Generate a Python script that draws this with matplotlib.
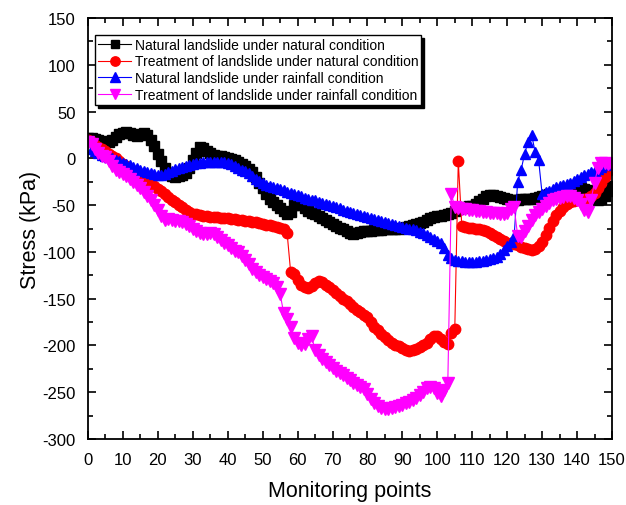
import numpy as np
import matplotlib
matplotlib.use("Agg")
import matplotlib.pyplot as plt
from matplotlib.ticker import MultipleLocator

plt.rcParams["font.family"] = ["Liberation Sans", "DejaVu Sans"]
plt.rcParams["axes.unicode_minus"] = False

points = np.arange(0, 151)

natural_natural = [
    22, 22, 21, 20, 19, 18, 17, 20, 23, 26,
    27, 28, 27, 25, 24, 26, 27, 25, 20, 13,
    5, -3, -10, -16, -19, -20, -19, -18, -16, -10,
    -2, 6, 12, 11, 8, 6, 4, 3, 2, 1,
    0, -1, -2, -4, -6, -8, -11, -15, -20, -26,
    -32, -38, -43, -47, -50, -53, -56, -59, -57, -50,
    -48, -50, -53, -56, -58, -60, -62, -64, -66, -68,
    -70, -72, -74, -76, -78, -80, -81, -80, -79, -78,
    -78, -78, -77, -77, -77, -76, -76, -76, -75, -75,
    -74, -73, -72, -71, -70, -69, -68, -66, -64, -63,
    -62, -62, -61, -60, -58, -56, -54, -53, -52, -51,
    -51, -49, -46, -43, -40, -39, -39, -40, -41, -42,
    -43, -44, -44, -44, -43, -43, -43, -43, -42, -41,
    -40, -39, -38, -38, -37, -36, -35, -34, -33, -33,
    -32, -32, -33, -34, -38, -42, -44, -43, -40, -35,
    -30,
]

treated_natural = [
    20, 17, 14, 12, 10, 8, 5, 2, 0, -3,
    -6, -8, -11, -14, -17, -20, -23, -25, -28, -30,
    -33, -35, -38, -41, -44, -47, -50, -52, -55, -57,
    -59, -60, -61, -62, -62, -63, -63, -63, -64, -64,
    -64, -65, -65, -66, -66, -67, -67, -68, -68, -69,
    -70, -71, -71, -72, -73, -74, -76, -80, -121, -124,
    -130, -135, -138, -139, -136, -133, -131, -132, -135, -138,
    -141, -144, -147, -150, -153, -156, -159, -162, -164, -167,
    -170, -175, -180, -184, -188, -191, -194, -197, -199, -201,
    -203, -205, -206, -205, -204, -202, -200, -197, -193, -190,
    -190, -193, -196, -198, -187, -182, -3, -72, -73, -74,
    -74, -75, -76, -77, -78, -80, -82, -84, -86, -88,
    -90, -91, -92, -93, -95, -96, -97, -98, -97, -94,
    -89, -82, -74, -67, -61, -56, -52, -49, -47, -46,
    -45, -44, -43, -42, -40, -37, -32, -26, -20, -13,
    -5,
]

natural_rainfall = [
    20, 10, 8, 6, 4, 2, 1, 0, -2, -3,
    -5, -6, -7, -9, -10, -12, -13, -15, -16, -17,
    -18, -18, -17, -15, -13, -11, -10, -9, -8, -7,
    -6, -5, -5, -4, -4, -4, -4, -4, -4, -4,
    -5, -6, -8, -10, -12, -14, -16, -19, -22, -24,
    -26, -28, -30, -31, -32, -33, -34, -36, -37, -38,
    -39, -40, -42, -43, -44, -45, -47, -48, -49, -50,
    -51, -52, -53, -55, -56, -57, -58, -59, -61, -62,
    -63, -64, -65, -66, -67, -68, -69, -70, -71, -72,
    -73, -74, -75, -76, -77, -79, -80, -82, -84, -86,
    -88, -91, -96, -103, -107, -109, -110, -110, -111, -111,
    -111, -111, -110, -110, -109, -108, -107, -105, -102, -98,
    -94, -89, -83, -25, -12, 5, 18, 25, 7, -2,
    -38, -36, -35, -33, -31, -30, -28, -27, -26, -24,
    -22, -20, -18, -17, -15, -13, -11, -9, -7, -6,
    -5,
]

treated_rainfall = [
    18, 15, 10, 6, 3, 1, -3, -8, -12, -15,
    -17, -19, -22, -25, -28, -32, -36, -40, -45, -50,
    -55, -62, -66, -65, -66, -67, -67, -68, -70, -72,
    -75, -78, -80, -81, -81, -80, -81, -84, -87, -90,
    -93, -96, -99, -100, -104, -109, -113, -118, -122, -125,
    -127, -129, -131, -133, -138, -145, -165, -172, -180, -192,
    -197, -200, -198, -193, -190, -205, -210, -214, -218, -221,
    -224, -227, -229, -232, -235, -237, -240, -242, -244, -247,
    -252, -257, -262, -265, -267, -268, -268, -267, -266, -265,
    -264, -262, -260, -258, -256, -253, -250, -246, -244, -246,
    -251, -254, -248, -240, -38, -52, -53, -54, -54, -55,
    -55, -56, -56, -57, -57, -58, -58, -58, -59, -60,
    -58, -54, -52, -83, -84, -78, -72, -66, -61, -57,
    -54, -51, -48, -45, -43, -42, -41, -40, -40, -42,
    -45, -49, -55, -57, -44, -26, -10, -5, -5, -6,
    -7,
]

labels = [
    "Natural landslide under natural condition",
    "Treatment of landslide under natural condition",
    "Natural landslide under rainfall condition",
    "Treatment of landslide under rainfall condition",
]

fig = plt.figure(figsize=(6.26, 5.06), dpi=100)
ax = fig.add_axes([0.1406, 0.1304, 0.837, 0.832])

ax.plot(points, natural_natural, color="black", marker="s", ms=6.5, lw=0.8,
        label=labels[0])
ax.plot(points, treated_natural, color="#ff0000", marker="o", ms=7.5, lw=0.8,
        label=labels[1])
ax.plot(points, natural_rainfall, color="#0000ff", marker="^", ms=7.5, lw=0.8,
        label=labels[2])
ax.plot(points, treated_rainfall, color="#ff00ff", marker="v", ms=8.5, lw=0.8,
        label=labels[3])

ax.set_xlim(0, 150)
ax.set_ylim(-300, 150)
ax.xaxis.set_major_locator(MultipleLocator(10))
ax.xaxis.set_minor_locator(MultipleLocator(5))
ax.yaxis.set_major_locator(MultipleLocator(50))
ax.yaxis.set_minor_locator(MultipleLocator(25))
ax.tick_params(which="both", direction="in", top=True, right=True,
               labeltop=False, labelright=False, width=1.2)
ax.tick_params(which="major", length=6, labelsize=12, pad=9)
ax.tick_params(which="minor", length=3.5)
for s in ax.spines.values():
    s.set_linewidth(1.3)

ax.set_xlabel("Monitoring points", fontsize=15.5, labelpad=10)
ax.set_ylabel("Stress (kPa)", fontsize=15.5, labelpad=1)

leg = ax.legend(loc="upper left", bbox_to_anchor=(0.014, 0.96),
                borderaxespad=0, fontsize=10, fancybox=False,
                edgecolor="black", framealpha=1, handlelength=2.4,
                handletextpad=0.25, labelspacing=0.2, borderpad=0.2,
                markerscale=0.9, shadow={"color": "black", "alpha": 1})
leg.get_frame().set_linewidth(1.0)

fig.savefig("out.png", dpi=100)
